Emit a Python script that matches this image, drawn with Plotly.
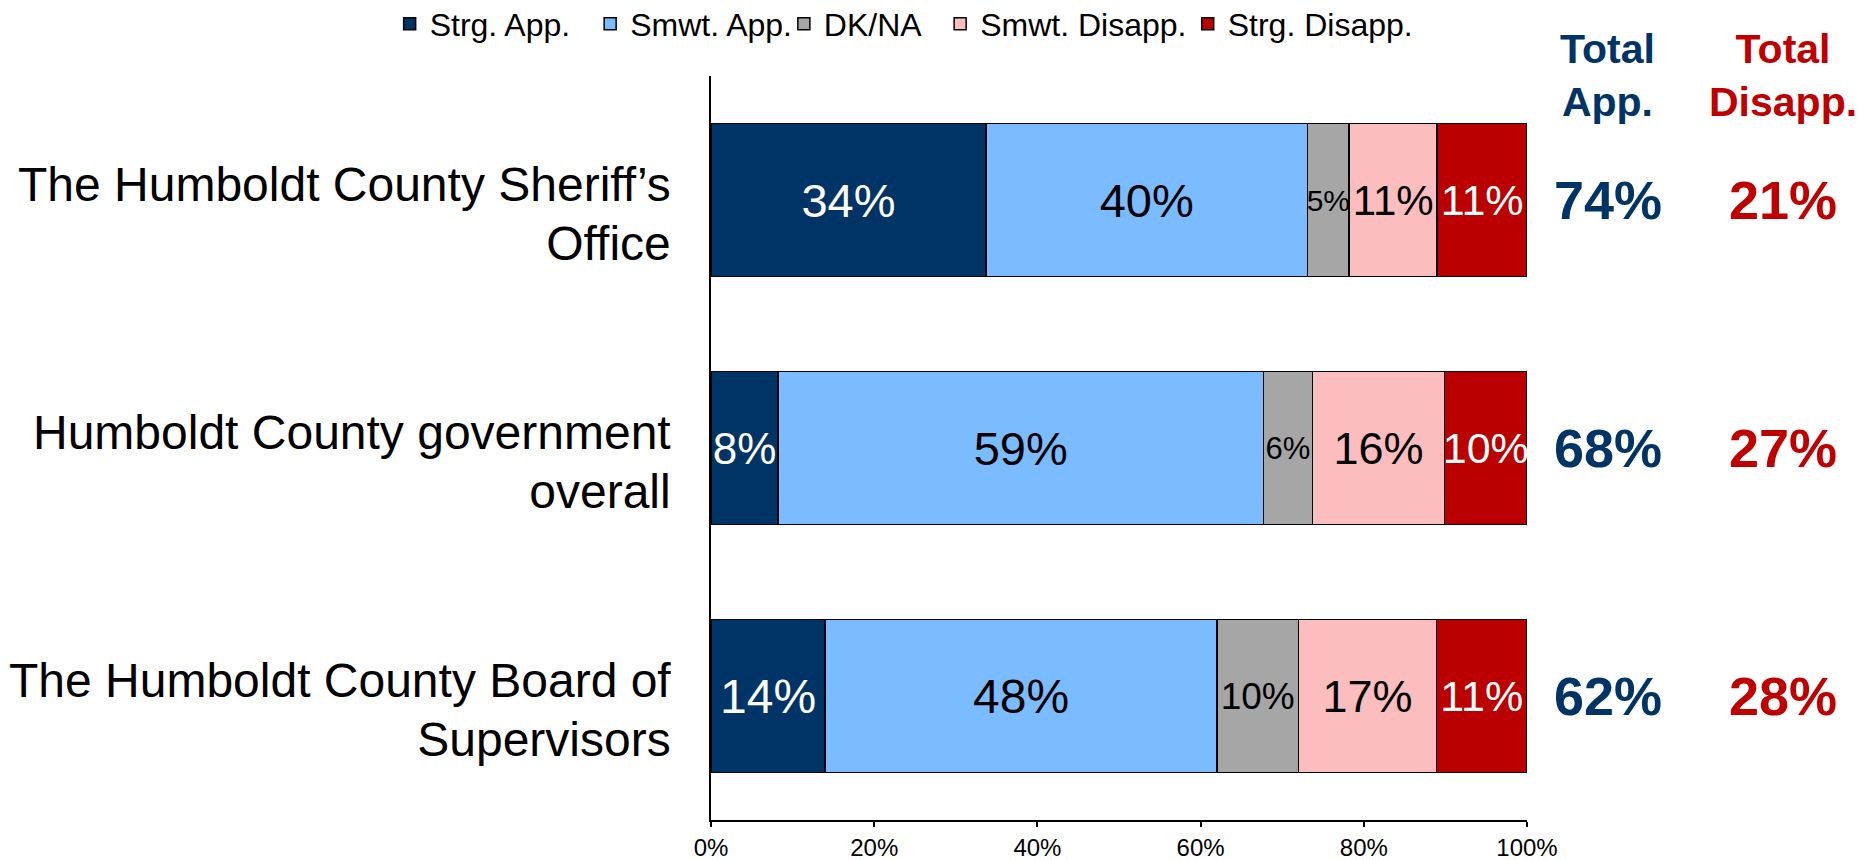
import plotly.graph_objects as go

categories = ["The Humboldt County Sheriff\u2019s<br>Office",
              "Humboldt County government<br>overall",
              "The Humboldt County Board of<br>Supervisors"]
series_names = ["Strg. App.", "Smwt. App.", "DK/NA", "Smwt. Disapp.", "Strg. Disapp."]
strg_app = [33.7, 8.2, 14.0]
smwt_app = [39.4, 59.5, 48.0]
dk_na = [5.1, 6.0, 10.0]
smwt_disapp = [10.8, 16.2, 16.9]
strg_disapp = [11.0, 10.1, 11.1]
label_strg_app = ["34%", "8%", "14%"]
label_smwt_app = ["40%", "59%", "48%"]
label_dk_na = ["5%", "6%", "10%"]
label_smwt_disapp = ["11%", "16%", "17%"]
label_strg_disapp = ["11%", "10%", "11%"]
total_app = ["74%", "68%", "62%"]
total_disapp = ["21%", "27%", "28%"]
tick_vals = [0, 20, 40, 60, 80, 100]
tick_text = ["0%", "20%", "40%", "60%", "80%", "100%"]

colors = ["#003366", "#7ABCFF", "#A6A6A6", "#FBBDBD", "#BA0000"]
text_colors = ["white", "black", "black", "black", "white"]
values = [strg_app, smwt_app, dk_na, smwt_disapp, strg_disapp]
labels = [label_strg_app, label_smwt_app, label_dk_na, label_smwt_disapp, label_strg_disapp]
sizes = [[47, 44, 48], [47, 47, 48], [30, 31, 37], [42, 45, 45], [43, 43, 43]]
legend_x = [-0.3938, -0.1481, 0.0893, 0.2808, 0.5842]

FONT = "Liberation Sans, Arial, sans-serif"
fig = go.Figure()
legend_layouts = {}
for i, (name, v, lab, c, tc, sz, lx) in enumerate(
        zip(series_names, values, labels, colors, text_colors, sizes, legend_x)):
    lname = "legend" if i == 0 else f"legend{i + 1}"
    fig.add_trace(go.Bar(
        name=name, y=categories, x=v, orientation="h", legend=lname,
        marker=dict(color=c, line=dict(color="black", width=1.5)),
        text=lab, textposition="inside", insidetextanchor="middle",
        textangle=0, constraintext="none",
        textfont=dict(color=tc, size=sz, family=FONT),
        hoverinfo="skip",
    ))
    legend_layouts[lname] = dict(orientation="h", x=lx, y=1.107, xref="paper", yref="paper",
                                 xanchor="left", yanchor="top", bgcolor="rgba(0,0,0,0)",
                                 font=dict(size=32, family=FONT))

annotations = []
for cat in categories:
    lines = cat.split("<br>")
    txt = "<br>".join(f"<span style='font-size:48px'>{ln}</span>" for ln in lines)
    annotations.append(dict(x=0, y=cat, xref="paper", yref="y", text=txt, showarrow=False,
                            font=dict(size=45, color="black", family=FONT),
                            xanchor="right", yanchor="middle", align="right",
                            xshift=-38, yshift=-14))
for cat, a, d in zip(categories, total_app, total_disapp):
    annotations.append(dict(x=1.099, y=cat, xref="paper", yref="y", text=a, showarrow=False,
                            font=dict(size=54, color="#003366", family=FONT, weight="bold"),
                            xanchor="center", yanchor="middle"))
    annotations.append(dict(x=1.314, y=cat, xref="paper", yref="y", text=d, showarrow=False,
                            font=dict(size=54, color="#C00000", family=FONT, weight="bold"),
                            xanchor="center", yanchor="middle"))
annotations.append(dict(x=1.099, y=1.0005, xref="paper", yref="paper", text="<b>Total<br>App.</b>",
                        showarrow=False, font=dict(size=41, color="#003366", family=FONT),
                        xanchor="center", yanchor="middle"))
annotations.append(dict(x=1.314, y=1.0005, xref="paper", yref="paper", text="<b>Total<br>Disapp.</b>",
                        showarrow=False, font=dict(size=41, color="#C00000", family=FONT),
                        xanchor="center", yanchor="middle"))

fig.update_layout(
    width=1860, height=852,
    margin=dict(l=703, r=341, t=68, b=40, autoexpand=False),
    barmode="stack", bargap=0.383,
    plot_bgcolor="white", paper_bgcolor="white",
    font=dict(family=FONT, color="black"),
    showlegend=True,
    annotations=annotations,
    xaxis=dict(range=[0, 100], tickvals=tick_vals, ticktext=tick_text, showgrid=False,
               zeroline=False, showline=True, linecolor="black", linewidth=2,
               ticks="outside", tickcolor="black", ticklen=5, tickwidth=1.5,
               tickfont=dict(size=24, family=FONT), fixedrange=True),
    yaxis=dict(autorange="reversed", showgrid=False, zeroline=False, showline=True,
               linecolor="black", linewidth=2, ticks="", showticklabels=False),
    **legend_layouts,
)
fig.write_html("out.html")
